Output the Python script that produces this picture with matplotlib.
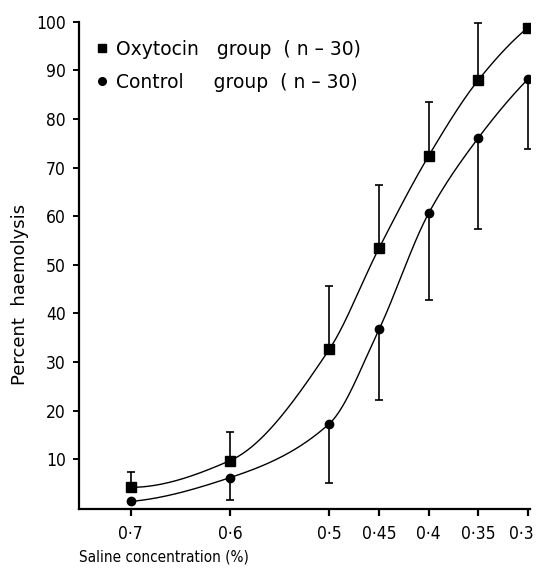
import numpy as np
import matplotlib
matplotlib.use("Agg")
import matplotlib.pyplot as plt
import matplotlib.transforms as mtransforms
from matplotlib import font_manager
from matplotlib.lines import Line2D

## data
conc = [0.7, 0.6, 0.5, 0.45, 0.4, 0.35, 0.3]
conc_labels = ["0·7", "0·6", "0·5", "0·45", "0·4", "0·35", "0·3"]

oxy_mean = [4.2, 9.7, 32.6, 53.4, 72.4, 88.0, 98.8]
oxy_sd = [3.1, 5.8, 13.0, 13.0, 11.1, 11.8, 0.0]      # drawn upward only

ctrl_mean = [1.3, 6.2, 17.3, 36.7, 60.6, 76.1, 88.2]
ctrl_sd = [0.0, 4.6, 12.1, 14.5, 17.8, 18.8, 14.4]    # drawn downward only

y_ticks = [10, 20, 30, 40, 50, 60, 70, 80, 90, 100]

## font: a condensed sans if there is one
fonts = font_manager.fontManager.ttflist
has_cond = any(f.name == "DejaVu Sans" and f.stretch == "condensed" for f in fonts)
plt.rcParams["font.family"] = ["DejaVu Sans"]
if has_cond:
    plt.rcParams["font.stretch"] = "condensed"
    fs, fs_x = 12.5, 11
else:
    fs, fs_x = 11.5, 10


def smooth_curve(x, y, xs):
    # monotone cubic line through the points (the hand-drawn fit)
    x = np.asarray(x, float)
    y = np.asarray(y, float)
    n = len(x)
    h = np.diff(x)
    d = np.diff(y) / h
    m = np.zeros(n)
    for k in range(1, n - 1):
        if d[k - 1] * d[k] > 0:
            w1 = 2 * h[k] + h[k - 1]
            w2 = h[k] + 2 * h[k - 1]
            m[k] = (w1 + w2) / (w1 / d[k - 1] + w2 / d[k])
    m[0] = ((2 * h[0] + h[1]) * d[0] - h[0] * d[1]) / (h[0] + h[1])
    if m[0] * d[0] < 0:
        m[0] = 0
    m[-1] = ((2 * h[-1] + h[-2]) * d[-1] - h[-1] * d[-2]) / (h[-1] + h[-2])
    if m[-1] * d[-1] < 0:
        m[-1] = 0
    idx = np.clip(np.searchsorted(x, xs) - 1, 0, n - 2)
    t = (xs - x[idx]) / h[idx]
    h00 = 2 * t**3 - 3 * t**2 + 1
    h10 = t**3 - 2 * t**2 + t
    h01 = -2 * t**3 + 3 * t**2
    h11 = t**3 - t**2
    return (h00 * y[idx] + h10 * h[idx] * m[idx]
            + h01 * y[idx + 1] + h11 * h[idx] * m[idx + 1])


## plot
fig = plt.figure(figsize=(5.38, 5.69), dpi=100)
ax = fig.add_axes([79 / 538, 60 / 569, 451 / 538, 487.3 / 569])

x_asc = np.array(conc[::-1])
xs = np.linspace(x_asc[0], x_asc[-1], 400)
ax.plot(xs, smooth_curve(x_asc, oxy_mean[::-1], xs), color="black", lw=1.0)
ax.plot(xs, smooth_curve(x_asc, ctrl_mean[::-1], xs), color="black", lw=1.0)

zeros = np.zeros(len(conc))
ax.errorbar(conc, oxy_mean, yerr=[zeros, oxy_sd], fmt="none", ecolor="black",
            elinewidth=1.2, capsize=3, capthick=1.2)
ax.errorbar(conc, ctrl_mean, yerr=[ctrl_sd, zeros], fmt="none", ecolor="black",
            elinewidth=1.2, capsize=3, capthick=1.2)

ax.plot(conc, oxy_mean, ls="none", marker="s", ms=6.5, color="black")
ax.plot(conc, ctrl_mean, ls="none", marker="o", ms=6, color="black")

handles = [Line2D([], [], ls="none", marker="s", ms=6, color="black"),
           Line2D([], [], ls="none", marker="o", ms=5.5, color="black")]
ax.legend(handles, ["Oxytocin   group  ( n – 30)", "Control     group  ( n – 30)"],
          loc="upper left", bbox_to_anchor=(0.01, 0.99), frameon=False,
          prop={"family": "DejaVu Sans", "stretch": "normal", "size": 13.5},
          handlelength=0.6, handletextpad=0.45, labelspacing=0.75,
          borderaxespad=0.3)

ax.set_xlim(0.752, 0.298)
ax.set_ylim(-0.25, 100)
ax.set_xticks(conc)
ax.set_xticklabels(conc_labels)
ax.set_yticks(y_ticks)

for s in ["top", "right"]:
    ax.spines[s].set_visible(False)
for s in ["left", "bottom"]:
    ax.spines[s].set_linewidth(1.6)

ax.tick_params(axis="x", direction="out", length=5, width=1.6, pad=6.5, labelsize=fs)
ax.tick_params(axis="y", direction="out", length=4.5, width=1.4, pad=5, labelsize=fs)

# last label sits a little left of its tick, as in the original
last = ax.get_xticklabels()[-1]
last.set_transform(last.get_transform()
                   + mtransforms.ScaledTranslation(-0.07, 0, fig.dpi_scale_trans))

ax.set_xlabel("Saline concentration (%)", fontsize=fs_x, loc="left")
ax.xaxis.set_label_coords(0.0, -0.084)
ax.set_ylabel("Percent  haemolysis", fontsize=13, fontstretch="normal")
ax.yaxis.set_label_coords(-0.11, 0.44)

plt.savefig("out.png", dpi=100)
plt.close(fig)
